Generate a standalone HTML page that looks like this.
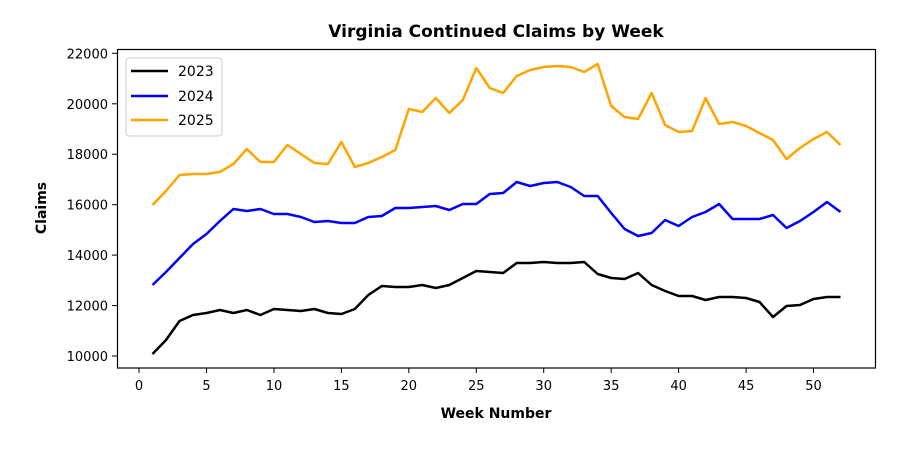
<!DOCTYPE html><html><head><meta charset="utf-8"><style>body{margin:0;background:#fff}svg{display:block;font-family:"DejaVu Sans","Liberation Sans",sans-serif}</style></head><body>
<svg width="898" height="449" viewBox="0 0 898 449">
<rect x="0" y="0" width="898" height="449" fill="#fff"/>
<text x="496" y="37" text-anchor="middle" font-size="17" font-weight="bold">Virginia Continued Claims by Week</text>
<g fill="none" stroke-width="2.5" stroke-linejoin="round">
<polyline stroke="#000" points="152.5,354 166.0,340 179.5,321 193.0,315 206.5,313 219.9,310 233.4,313 246.9,310 260.4,315 273.9,309 287.4,310 300.9,311 314.4,309 327.9,313 341.4,314 354.8,309 368.3,295 381.8,286 395.3,287 408.8,287 422.3,285 435.8,288 449.3,285 462.8,278 476.3,271 489.7,272 503.2,273 516.7,263 530.2,263 543.7,262 557.2,263 570.7,263 584.2,262 597.7,274 611.2,278 624.6,279 638.1,273 651.6,285 665.1,291 678.6,296 692.1,296 705.6,300 719.1,297 732.6,297 746.1,298 759.5,302 773.0,317 786.5,306 800.0,305 813.5,299 827.0,297 840.5,297"/>
<polyline stroke="#0000ff" points="152.5,285 166.0,272 179.5,258 193.0,244 206.5,234 219.9,221 233.4,209 246.9,211 260.4,209 273.9,214 287.4,214 300.9,217 314.4,222 327.9,221 341.4,223 354.8,223 368.3,217 381.8,216 395.3,208 408.8,208 422.3,207 435.8,206 449.3,210 462.8,204 476.3,204 489.7,194 503.2,193 516.7,182 530.2,186 543.7,183 557.2,182 570.7,187 584.2,196 597.7,196 611.2,213 624.6,229 638.1,236 651.6,233 665.1,220 678.6,226 692.1,217 705.6,212 719.1,204 732.6,219 746.1,219 759.5,219 773.0,215 786.5,228 800.0,221 813.5,212 827.0,202 840.5,212"/>
<polyline stroke="#ffa500" points="152.5,205 166.0,191 179.5,175 193.0,174 206.5,174 219.9,172 233.4,164 246.9,149 260.4,162 273.9,162 287.4,145 300.9,154 314.4,163 327.9,164 341.4,142 354.8,167 368.3,163 381.8,157 395.3,150 408.8,109 422.3,112 435.8,98 449.3,113 462.8,100 476.3,68 489.7,88 503.2,93 516.7,76 530.2,70 543.7,67 557.2,66 570.7,67 584.2,72 597.7,64 611.2,106 624.6,117 638.1,119 651.6,93 665.1,125 678.6,132 692.1,131 705.6,98 719.1,124 732.6,122 746.1,126 759.5,133 773.0,140 786.5,159 800.0,148 813.5,139 827.0,132 840.5,145"/>
</g>
<rect x="117.5" y="49.5" width="758" height="318.5" fill="none" stroke="#000" stroke-width="1.2"/>
<g stroke="#000" stroke-width="1">
<line x1="139" y1="368" x2="139" y2="373"/><line x1="206.5" y1="368" x2="206.5" y2="373"/><line x1="274" y1="368" x2="274" y2="373"/><line x1="341.4" y1="368" x2="341.4" y2="373"/><line x1="408.8" y1="368" x2="408.8" y2="373"/><line x1="476.3" y1="368" x2="476.3" y2="373"/><line x1="543.7" y1="368" x2="543.7" y2="373"/><line x1="611.2" y1="368" x2="611.2" y2="373"/><line x1="678.6" y1="368" x2="678.6" y2="373"/><line x1="746.1" y1="368" x2="746.1" y2="373"/><line x1="813.5" y1="368" x2="813.5" y2="373"/>
<line x1="112" y1="356" x2="117.5" y2="356"/><line x1="112" y1="305.6" x2="117.5" y2="305.6"/><line x1="112" y1="255.1" x2="117.5" y2="255.1"/><line x1="112" y1="204.7" x2="117.5" y2="204.7"/><line x1="112" y1="154.2" x2="117.5" y2="154.2"/><line x1="112" y1="103.8" x2="117.5" y2="103.8"/><line x1="112" y1="53.3" x2="117.5" y2="53.3"/>
</g>
<g font-size="13" text-anchor="middle">
<text x="139" y="390">0</text><text x="206.5" y="390">5</text><text x="274" y="390">10</text><text x="341.4" y="390">15</text><text x="408.8" y="390">20</text><text x="476.3" y="390">25</text><text x="543.7" y="390">30</text><text x="611.2" y="390">35</text><text x="678.6" y="390">40</text><text x="746.1" y="390">45</text><text x="813.5" y="390">50</text>
</g>
<g font-size="13" text-anchor="end">
<text x="108" y="361">10000</text><text x="108" y="310.6">12000</text><text x="108" y="260.1">14000</text><text x="108" y="209.7">16000</text><text x="108" y="159.2">18000</text><text x="108" y="108.8">20000</text><text x="108" y="58.3">22000</text>
</g>
<text x="496" y="418" text-anchor="middle" font-size="14" font-weight="bold">Week Number</text>
<text transform="translate(46,208) rotate(-90)" text-anchor="middle" font-size="14" font-weight="bold">Claims</text>
<rect x="126" y="58" width="96" height="78" rx="3" fill="#fff" fill-opacity="0.85" stroke="#ccc"/>
<line x1="131" y1="71" x2="168" y2="71" stroke="#000" stroke-width="2.5"/><text x="178" y="76" font-size="14">2023</text>
<line x1="131" y1="96" x2="168" y2="96" stroke="#0000ff" stroke-width="2.5"/><text x="178" y="101" font-size="14">2024</text>
<line x1="131" y1="120" x2="168" y2="120" stroke="#ffa500" stroke-width="2.5"/><text x="178" y="125" font-size="14">2025</text>
</svg></body></html>
